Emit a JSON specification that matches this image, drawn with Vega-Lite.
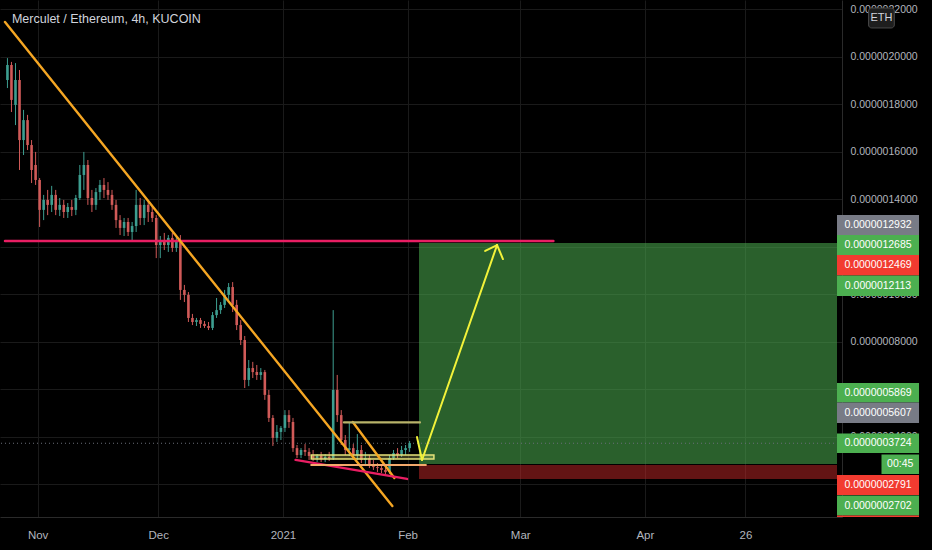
{
  "$schema": "https://vega.github.io/schema/vega-lite/v6.json",
  "width": 842,
  "height": 517,
  "autosize": "none",
  "padding": {"left": 0, "top": 0, "right": 90, "bottom": 33},
  "background": "#000000",
  "config": {"view": {"stroke": null}, "font": "Liberation Sans"},
  "resolve": {"scale": {"color": "independent", "size": "independent", "opacity": "independent"}},
  "datasets": {
    "candles": [
      {"t":"2020-10-24T12:00","o":19.02e-7,"h":19.94e-7,"l":18.68e-7,"c":19.65e-7},
      {"t":"2020-10-25T12:00","o":19.65e-7,"h":19.78e-7,"l":17.67e-7,"c":18.18e-7},
      {"t":"2020-10-26T12:00","o":17.97e-7,"h":19.73e-7,"l":17.12e-7,"c":19.02e-7},
      {"t":"2020-10-27T12:00","o":19.02e-7,"h":19.44e-7,"l":15.23e-7,"c":16.49e-7},
      {"t":"2020-10-28T12:00","o":16.49e-7,"h":17.76e-7,"l":15.86e-7,"c":17.33e-7},
      {"t":"2020-10-29T12:00","o":17.33e-7,"h":17.55e-7,"l":16.07e-7,"c":16.28e-7},
      {"t":"2020-10-30T12:00","o":16.28e-7,"h":16.49e-7,"l":14.68e-7,"c":15.23e-7},
      {"t":"2020-10-31T12:00","o":15.44e-7,"h":15.99e-7,"l":14.60e-7,"c":14.81e-7},
      {"t":"2020-11-01T12:00","o":14.81e-7,"h":14.89e-7,"l":12.83e-7,"c":13.55e-7},
      {"t":"2020-11-02T12:00","o":13.55e-7,"h":14.18e-7,"l":13.12e-7,"c":13.97e-7},
      {"t":"2020-11-03T12:00","o":13.97e-7,"h":14.39e-7,"l":13.33e-7,"c":13.76e-7},
      {"t":"2020-11-04T12:00","o":13.76e-7,"h":14.56e-7,"l":13.46e-7,"c":14.18e-7},
      {"t":"2020-11-05T12:00","o":14.18e-7,"h":14.39e-7,"l":13.33e-7,"c":13.55e-7},
      {"t":"2020-11-06T12:00","o":13.55e-7,"h":14.05e-7,"l":13.29e-7,"c":13.76e-7},
      {"t":"2020-11-07T12:00","o":13.76e-7,"h":13.97e-7,"l":13.21e-7,"c":13.46e-7},
      {"t":"2020-11-08T12:00","o":13.46e-7,"h":13.84e-7,"l":13.21e-7,"c":13.67e-7},
      {"t":"2020-11-09T12:00","o":13.67e-7,"h":13.97e-7,"l":13.29e-7,"c":13.55e-7},
      {"t":"2020-11-10T12:00","o":13.55e-7,"h":14.18e-7,"l":13.33e-7,"c":14.05e-7},
      {"t":"2020-11-11T12:00","o":14.05e-7,"h":15.44e-7,"l":13.97e-7,"c":15.02e-7},
      {"t":"2020-11-12T12:00","o":15.02e-7,"h":15.99e-7,"l":14.39e-7,"c":15.44e-7},
      {"t":"2020-11-13T12:00","o":15.44e-7,"h":15.65e-7,"l":13.76e-7,"c":14.05e-7},
      {"t":"2020-11-14T12:00","o":14.05e-7,"h":14.39e-7,"l":13.46e-7,"c":13.76e-7},
      {"t":"2020-11-15T12:00","o":13.76e-7,"h":14.47e-7,"l":13.55e-7,"c":14.30e-7},
      {"t":"2020-11-16T12:00","o":14.30e-7,"h":14.81e-7,"l":13.97e-7,"c":14.60e-7},
      {"t":"2020-11-17T12:00","o":14.60e-7,"h":14.89e-7,"l":14.05e-7,"c":14.39e-7},
      {"t":"2020-11-18T12:00","o":14.39e-7,"h":14.72e-7,"l":13.97e-7,"c":14.18e-7},
      {"t":"2020-11-19T12:00","o":14.18e-7,"h":14.39e-7,"l":13.55e-7,"c":13.76e-7},
      {"t":"2020-11-20T12:00","o":13.76e-7,"h":13.97e-7,"l":12.79e-7,"c":13.12e-7},
      {"t":"2020-11-21T12:00","o":13.12e-7,"h":13.33e-7,"l":12.49e-7,"c":12.79e-7},
      {"t":"2020-11-22T12:00","o":12.79e-7,"h":13.21e-7,"l":12.45e-7,"c":13.04e-7},
      {"t":"2020-11-23T12:00","o":13.04e-7,"h":13.21e-7,"l":12.45e-7,"c":12.62e-7},
      {"t":"2020-11-24T12:00","o":12.62e-7,"h":13.04e-7,"l":12.28e-7,"c":12.87e-7},
      {"t":"2020-11-25T12:00","o":12.87e-7,"h":14.39e-7,"l":12.62e-7,"c":13.76e-7},
      {"t":"2020-11-26T12:00","o":13.76e-7,"h":14.05e-7,"l":12.91e-7,"c":13.21e-7},
      {"t":"2020-11-27T12:00","o":13.21e-7,"h":13.97e-7,"l":12.91e-7,"c":13.76e-7},
      {"t":"2020-11-28T12:00","o":13.76e-7,"h":13.97e-7,"l":13.04e-7,"c":13.46e-7},
      {"t":"2020-11-29T12:00","o":13.46e-7,"h":13.76e-7,"l":13.04e-7,"c":13.21e-7},
      {"t":"2020-11-30T12:00","o":13.21e-7,"h":13.33e-7,"l":11.52e-7,"c":12.07e-7},
      {"t":"2020-12-01T12:00","o":12.07e-7,"h":12.45e-7,"l":11.52e-7,"c":12.28e-7},
      {"t":"2020-12-02T12:00","o":12.28e-7,"h":12.58e-7,"l":11.86e-7,"c":12.07e-7},
      {"t":"2020-12-03T12:00","o":12.07e-7,"h":12.49e-7,"l":11.78e-7,"c":12.37e-7},
      {"t":"2020-12-04T12:00","o":12.37e-7,"h":12.58e-7,"l":11.78e-7,"c":11.95e-7},
      {"t":"2020-12-05T12:00","o":11.95e-7,"h":12.49e-7,"l":11.78e-7,"c":12.28e-7},
      {"t":"2020-12-06T12:00","o":12.28e-7,"h":12.49e-7,"l":9.76e-7,"c":10.18e-7},
      {"t":"2020-12-07T12:00","o":10.18e-7,"h":10.39e-7,"l":9.67e-7,"c":9.97e-7},
      {"t":"2020-12-08T12:00","o":9.97e-7,"h":10.09e-7,"l":8.83e-7,"c":9.00e-7},
      {"t":"2020-12-09T12:00","o":9.00e-7,"h":9.17e-7,"l":8.70e-7,"c":8.83e-7},
      {"t":"2020-12-10T12:00","o":8.83e-7,"h":9.00e-7,"l":8.66e-7,"c":8.91e-7},
      {"t":"2020-12-11T12:00","o":8.91e-7,"h":9.00e-7,"l":8.58e-7,"c":8.75e-7},
      {"t":"2020-12-12T12:00","o":8.75e-7,"h":8.87e-7,"l":8.58e-7,"c":8.66e-7},
      {"t":"2020-12-13T12:00","o":8.66e-7,"h":8.83e-7,"l":8.49e-7,"c":8.58e-7},
      {"t":"2020-12-14T12:00","o":8.58e-7,"h":9.25e-7,"l":8.49e-7,"c":9.12e-7},
      {"t":"2020-12-15T12:00","o":9.12e-7,"h":9.84e-7,"l":9.00e-7,"c":9.33e-7},
      {"t":"2020-12-16T12:00","o":9.33e-7,"h":9.67e-7,"l":9.17e-7,"c":9.55e-7},
      {"t":"2020-12-17T12:00","o":9.55e-7,"h":10.18e-7,"l":9.42e-7,"c":9.97e-7},
      {"t":"2020-12-18T12:00","o":9.97e-7,"h":10.47e-7,"l":9.76e-7,"c":10.30e-7},
      {"t":"2020-12-19T12:00","o":10.30e-7,"h":10.51e-7,"l":9.25e-7,"c":9.55e-7},
      {"t":"2020-12-20T12:00","o":9.55e-7,"h":9.76e-7,"l":8.49e-7,"c":8.70e-7},
      {"t":"2020-12-21T12:00","o":8.70e-7,"h":8.91e-7,"l":7.86e-7,"c":8.07e-7},
      {"t":"2020-12-22T12:00","o":8.07e-7,"h":8.24e-7,"l":6.05e-7,"c":6.39e-7},
      {"t":"2020-12-23T12:00","o":6.39e-7,"h":7.23e-7,"l":6.13e-7,"c":6.89e-7},
      {"t":"2020-12-24T12:00","o":6.89e-7,"h":7.15e-7,"l":6.47e-7,"c":6.72e-7},
      {"t":"2020-12-25T12:00","o":6.72e-7,"h":7.02e-7,"l":6.39e-7,"c":6.60e-7},
      {"t":"2020-12-26T12:00","o":6.60e-7,"h":6.89e-7,"l":6.39e-7,"c":6.72e-7},
      {"t":"2020-12-27T12:00","o":6.72e-7,"h":6.81e-7,"l":5.55e-7,"c":5.76e-7},
      {"t":"2020-12-28T12:00","o":5.76e-7,"h":5.97e-7,"l":4.62e-7,"c":4.79e-7},
      {"t":"2020-12-29T12:00","o":4.79e-7,"h":4.91e-7,"l":3.61e-7,"c":3.95e-7},
      {"t":"2020-12-30T12:00","o":3.95e-7,"h":4.49e-7,"l":3.78e-7,"c":4.20e-7},
      {"t":"2020-12-31T12:00","o":4.20e-7,"h":4.45e-7,"l":3.86e-7,"c":4.37e-7},
      {"t":"2021-01-01T12:00","o":4.37e-7,"h":5.12e-7,"l":4.20e-7,"c":4.91e-7},
      {"t":"2021-01-02T12:00","o":4.91e-7,"h":5.12e-7,"l":4.37e-7,"c":4.62e-7},
      {"t":"2021-01-03T12:00","o":4.62e-7,"h":4.79e-7,"l":3.36e-7,"c":3.52e-7},
      {"t":"2021-01-04T12:00","o":3.52e-7,"h":3.65e-7,"l":3.10e-7,"c":3.23e-7},
      {"t":"2021-01-05T12:00","o":3.23e-7,"h":3.52e-7,"l":3.10e-7,"c":3.44e-7},
      {"t":"2021-01-06T12:00","o":3.44e-7,"h":3.69e-7,"l":3.19e-7,"c":3.36e-7},
      {"t":"2021-01-07T12:00","o":3.36e-7,"h":3.52e-7,"l":3.02e-7,"c":3.19e-7},
      {"t":"2021-01-08T12:00","o":3.19e-7,"h":3.44e-7,"l":2.98e-7,"c":3.10e-7},
      {"t":"2021-01-09T12:00","o":3.10e-7,"h":3.27e-7,"l":2.93e-7,"c":3.19e-7},
      {"t":"2021-01-10T12:00","o":3.19e-7,"h":3.36e-7,"l":2.93e-7,"c":3.06e-7},
      {"t":"2021-01-11T12:00","o":3.06e-7,"h":3.27e-7,"l":2.93e-7,"c":3.15e-7},
      {"t":"2021-01-12T12:00","o":3.15e-7,"h":3.36e-7,"l":2.98e-7,"c":3.10e-7},
      {"t":"2021-01-13T12:00","o":3.10e-7,"h":9.33e-7,"l":3.02e-7,"c":5.97e-7},
      {"t":"2021-01-14T12:00","o":5.97e-7,"h":6.60e-7,"l":4.62e-7,"c":4.91e-7},
      {"t":"2021-01-15T12:00","o":4.91e-7,"h":5.12e-7,"l":3.65e-7,"c":3.86e-7},
      {"t":"2021-01-16T12:00","o":3.86e-7,"h":4.07e-7,"l":3.23e-7,"c":3.44e-7},
      {"t":"2021-01-17T12:00","o":3.44e-7,"h":4.58e-7,"l":3.19e-7,"c":3.52e-7},
      {"t":"2021-01-18T12:00","o":3.52e-7,"h":3.69e-7,"l":3.02e-7,"c":3.23e-7},
      {"t":"2021-01-19T12:00","o":3.23e-7,"h":4.11e-7,"l":3.02e-7,"c":3.44e-7},
      {"t":"2021-01-20T12:00","o":3.44e-7,"h":3.65e-7,"l":2.89e-7,"c":3.02e-7},
      {"t":"2021-01-21T12:00","o":3.02e-7,"h":3.36e-7,"l":2.81e-7,"c":3.10e-7},
      {"t":"2021-01-22T12:00","o":3.10e-7,"h":3.23e-7,"l":2.68e-7,"c":2.81e-7},
      {"t":"2021-01-23T12:00","o":2.81e-7,"h":3.02e-7,"l":2.60e-7,"c":2.72e-7},
      {"t":"2021-01-24T12:00","o":2.72e-7,"h":2.89e-7,"l":2.51e-7,"c":2.68e-7},
      {"t":"2021-01-25T12:00","o":2.68e-7,"h":2.85e-7,"l":2.47e-7,"c":2.60e-7},
      {"t":"2021-01-26T12:00","o":2.60e-7,"h":2.81e-7,"l":2.35e-7,"c":2.51e-7},
      {"t":"2021-01-27T12:00","o":2.51e-7,"h":3.23e-7,"l":2.43e-7,"c":3.10e-7},
      {"t":"2021-01-28T12:00","o":3.10e-7,"h":3.44e-7,"l":3.02e-7,"c":3.31e-7},
      {"t":"2021-01-29T12:00","o":3.31e-7,"h":3.52e-7,"l":3.10e-7,"c":3.23e-7},
      {"t":"2021-01-30T12:00","o":3.23e-7,"h":3.61e-7,"l":3.15e-7,"c":3.44e-7},
      {"t":"2021-01-31T12:00","o":3.44e-7,"h":3.65e-7,"l":3.23e-7,"c":3.52e-7},
      {"t":"2021-02-01T12:00","o":3.52e-7,"h":3.82e-7,"l":3.36e-7,"c":3.73e-7}
    ],
    "zones": [
      {"kind":"profit","a":"2021-02-03T20:00","b":"2021-05-18T18:30","top":12.16e-7,"bot":2.85e-7},
      {"kind":"loss","a":"2021-02-03T20:00","b":"2021-05-18T18:30","top":2.81e-7,"bot":2.22e-7}
    ],
    "segments": [
      {"kind":"resist","a":"2020-10-23T21:24","ya":12.24e-7,"b":"2021-03-09T06:00","yb":12.24e-7},
      {"kind":"trend","a":"2020-10-23T21:24","ya":21.46e-7,"b":"2021-01-28T05:00","yb":1.08e-7},
      {"kind":"trend","a":"2021-01-18T09:00","ya":4.62e-7,"b":"2021-01-28T17:00","yb":2.26e-7},
      {"kind":"pink","a":"2021-01-04T03:00","ya":3.02e-7,"b":"2021-01-31T21:00","yb":2.22e-7},
      {"kind":"mark","a":"2021-01-16T04:00","ya":4.60e-7,"b":"2021-02-04T02:00","yb":4.60e-7},
      {"kind":"support","a":"2021-01-08T01:00","ya":2.81e-7,"b":"2021-02-05T13:00","yb":2.81e-7},
      {"kind":"arrow","a":"2021-02-03T08:00","ya":3.99e-7,"b":"2021-02-04T14:00","yb":3.02e-7},
      {"kind":"arrow","a":"2021-02-04T14:00","ya":3.02e-7,"b":"2021-02-23T06:00","yb":12.07e-7},
      {"kind":"arrow","a":"2021-02-23T06:00","ya":12.07e-7,"b":"2021-02-20T07:00","yb":11.82e-7},
      {"kind":"arrow","a":"2021-02-23T06:00","ya":12.07e-7,"b":"2021-02-24T17:00","yb":11.48e-7}
    ],
    "tags": [
      {"t":"0.0000012932","kind":"grey","a":"2021-05-18T18:30","b":"2021-06-08T04:00","m":"2021-05-28T23:15","top":13.335e-7,"bot":12.493e-7,"mid":12.914e-7},
      {"t":"0.0000012685","kind":"green","a":"2021-05-18T18:30","b":"2021-06-08T04:00","m":"2021-05-28T23:15","top":12.493e-7,"bot":11.651e-7,"mid":12.072e-7},
      {"t":"0.0000012469","kind":"red","a":"2021-05-18T18:30","b":"2021-06-08T04:00","m":"2021-05-28T23:15","top":11.651e-7,"bot":10.787e-7,"mid":11.219e-7},
      {"t":"0.0000012113","kind":"green","a":"2021-05-18T18:30","b":"2021-06-08T04:00","m":"2021-05-28T23:15","top":10.787e-7,"bot":9.924e-7,"mid":10.356e-7},
      {"t":"0.0000005869","kind":"green","a":"2021-05-18T18:30","b":"2021-06-08T04:00","m":"2021-05-28T23:15","top":6.261e-7,"bot":5.440e-7,"mid":5.851e-7},
      {"t":"0.0000005607","kind":"grey","a":"2021-05-18T18:30","b":"2021-06-08T04:00","m":"2021-05-28T23:15","top":5.440e-7,"bot":4.577e-7,"mid":5.009e-7},
      {"t":"0.0000003724","kind":"green","a":"2021-05-18T18:30","b":"2021-06-08T04:00","m":"2021-05-28T23:15","top":4.135e-7,"bot":3.314e-7,"mid":3.725e-7},
      {"t":"00:45","kind":"green","a":"2021-05-29T20:00","b":"2021-06-08T04:00","m":"2021-06-03T12:00","top":3.251e-7,"bot":2.429e-7,"mid":2.840e-7},
      {"t":"0.0000002791","kind":"red","a":"2021-05-18T18:30","b":"2021-06-08T04:00","m":"2021-05-28T23:15","top":2.387e-7,"bot":1.545e-7,"mid":1.966e-7},
      {"t":"0.0000002702","kind":"green","a":"2021-05-18T18:30","b":"2021-06-08T04:00","m":"2021-05-28T23:15","top":1.524e-7,"bot":0.682e-7,"mid":1.103e-7},
      {"t":"","kind":"red","a":"2021-05-18T18:30","b":"2021-06-08T04:00","m":"2021-05-28T23:15","top":0.682e-7,"bot":0.619e-7,"mid":0.65e-7}
    ],
    "notes": [
      {"t":"Merculet / Ethereum, 4h, KUCOIN","x":"2020-10-25T14:38","y":21.42e-7}
    ],
    "badge": [
      {"t":"ETH","a":"2021-05-26T15:00","b":"2021-06-02T00:30","m":"2021-05-29T20:00","top":22.05e-7,"bot":21.21e-7,"mid":21.63e-7}
    ],
    "price": [
      {"p":3.724e-7}
    ]
  },
  "layer": [
    {
      "data": {"name": "zones"},
      "mark": {"type": "rect"},
      "encoding": {
        "x": {"field": "a", "type": "temporal", "title": null,
          "scale": {"type": "time", "nice": false, "domain": [{"year":2020,"month":10,"date":23,"hours":21,"minutes":24},{"year":2021,"month":5,"date":18,"hours":18,"minutes":30}]},
          "axis": {"orient": "bottom", "title": null, "grid": true, "gridColor": "#1a1a1a", "ticks": false, "tickSize": 0, "domainColor": "#2a2a2a",
            "labelColor": "#b2b5be", "labelFontSize": 11.5, "labelFont": "Liberation Sans", "labelPadding": 12, "labelFlush": false, "labelOverlap": false,
            "values": [{"year":2020,"month":11,"date":1},{"year":2020,"month":12,"date":1},{"year":2021,"month":1,"date":1},{"year":2021,"month":2,"date":1},{"year":2021,"month":3,"date":1},{"year":2021,"month":4,"date":1},{"year":2021,"month":4,"date":26}],
            "labelExpr": "timeFormat(datum.value,'%m%d')=='0101' ? timeFormat(datum.value,'%Y') : (timeFormat(datum.value,'%d')=='01' ? timeFormat(datum.value,'%b') : timeFormat(datum.value,'%d'))"}},
        "x2": {"field": "b"},
        "y": {"field": "top", "type": "quantitative", "title": null,
          "scale": {"domain": [6.19e-8, 2.2387e-6], "nice": false, "zero": false},
          "axis": {"orient": "right", "title": null, "grid": true, "gridColor": "#1a1a1a", "ticks": false, "tickSize": 0, "domainColor": "#2a2a2a",
            "labelColor": "#b2b5be", "labelFontSize": 10.5, "labelFont": "Liberation Sans", "labelPadding": 8, "labelAlign": "left", "labelFlush": false, "labelOverlap": false,
            "values": [2e-7, 4e-7, 6e-7, 8e-7, 1e-6, 1.2e-6, 1.4e-6, 1.6e-6, 1.8e-6, 2e-6, 2.2e-6],
            "labelExpr": "(abs(datum.value-1.2e-6)<1e-9 || abs(datum.value-6e-7)<1e-9 || abs(datum.value-2e-7)<1e-9) ? '' : format(datum.value,'.10f')"}},
        "y2": {"field": "bot"},
        "color": {"field": "kind", "type": "nominal", "scale": {"domain": ["profit", "loss"], "range": ["#4caf50", "#c62828"]}, "legend": null},
        "opacity": {"field": "kind", "type": "nominal", "scale": {"domain": ["profit", "loss"], "range": [0.55, 0.5]}, "legend": null}
      }
    },
    {
      "data": {"name": "price"},
      "mark": {"type": "rule", "color": "#6a6d78", "strokeWidth": 1, "strokeDash": [1, 3]},
      "encoding": {
        "y": {"field": "p", "type": "quantitative", "title": null, "scale": {"domain": [6.19e-8, 2.2387e-6], "nice": false, "zero": false}}
      }
    },
    {
      "data": {"name": "candles"},
      "mark": {"type": "rule", "strokeWidth": 1},
      "encoding": {
        "x": {"field": "t", "type": "temporal", "title": null, "scale": {"type": "time", "nice": false, "domain": [{"year":2020,"month":10,"date":23,"hours":21,"minutes":24},{"year":2021,"month":5,"date":18,"hours":18,"minutes":30}]}},
        "y": {"field": "l", "type": "quantitative", "title": null, "scale": {"domain": [6.19e-8, 2.2387e-6], "nice": false, "zero": false}},
        "y2": {"field": "h"},
        "color": {"condition": {"test": "datum.c >= datum.o", "value": "#3d9e90"}, "value": "#d05a58"}
      }
    },
    {
      "data": {"name": "candles"},
      "mark": {"type": "bar", "size": 2.6},
      "encoding": {
        "x": {"field": "t", "type": "temporal", "title": null, "scale": {"type": "time", "nice": false, "domain": [{"year":2020,"month":10,"date":23,"hours":21,"minutes":24},{"year":2021,"month":5,"date":18,"hours":18,"minutes":30}]}},
        "y": {"field": "o", "type": "quantitative", "title": null, "scale": {"domain": [6.19e-8, 2.2387e-6], "nice": false, "zero": false}},
        "y2": {"field": "c"},
        "color": {"condition": {"test": "datum.c >= datum.o", "value": "#3d9e90"}, "value": "#d05a58"}
      }
    },
    {
      "data": {"values": [{"a":"2021-01-08T01:00","b":"2021-02-07T13:00","top":3.23e-7,"bot":3.06e-7}]},
      "mark": {"type": "rect", "fill": "#e6e27a", "fillOpacity": 0.25, "stroke": "#e6e27a", "strokeWidth": 1.5},
      "encoding": {
        "x": {"field": "a", "type": "temporal", "title": null, "scale": {"type": "time", "nice": false, "domain": [{"year":2020,"month":10,"date":23,"hours":21,"minutes":24},{"year":2021,"month":5,"date":18,"hours":18,"minutes":30}]}},
        "x2": {"field": "b"},
        "y": {"field": "top", "type": "quantitative", "title": null, "scale": {"domain": [6.19e-8, 2.2387e-6], "nice": false, "zero": false}},
        "y2": {"field": "bot"}
      }
    },
    {
      "data": {"name": "segments"},
      "mark": {"type": "rule", "strokeCap": "round"},
      "encoding": {
        "x": {"field": "a", "type": "temporal", "title": null, "scale": {"type": "time", "nice": false, "domain": [{"year":2020,"month":10,"date":23,"hours":21,"minutes":24},{"year":2021,"month":5,"date":18,"hours":18,"minutes":30}]}},
        "x2": {"field": "b"},
        "y": {"field": "ya", "type": "quantitative", "title": null, "scale": {"domain": [6.19e-8, 2.2387e-6], "nice": false, "zero": false}},
        "y2": {"field": "yb"},
        "color": {"field": "kind", "type": "nominal", "scale": {"domain": ["resist", "trend", "pink", "mark", "support", "arrow"], "range": ["#e91e63", "#f5a623", "#e91e63", "#b8b36a", "#f3a96b", "#f2f23a"]}, "legend": null},
        "size": {"field": "kind", "type": "nominal", "scale": {"domain": ["resist", "trend", "pink", "mark", "support", "arrow"], "range": [2.5, 2, 2.5, 1.5, 3.5, 2]}, "legend": null}
      }
    },
    {
      "data": {"name": "tags"},
      "mark": {"type": "rect"},
      "encoding": {
        "x": {"field": "a", "type": "temporal", "title": null, "scale": {"type": "time", "nice": false, "domain": [{"year":2020,"month":10,"date":23,"hours":21,"minutes":24},{"year":2021,"month":5,"date":18,"hours":18,"minutes":30}]}},
        "x2": {"field": "b"},
        "y": {"field": "top", "type": "quantitative", "title": null, "scale": {"domain": [6.19e-8, 2.2387e-6], "nice": false, "zero": false}},
        "y2": {"field": "bot"},
        "color": {"field": "kind", "type": "nominal", "scale": {"domain": ["grey", "green", "red"], "range": ["#787b86", "#4caf50", "#f23b30"]}, "legend": null}
      }
    },
    {
      "data": {"name": "tags"},
      "mark": {"type": "text", "align": "center", "baseline": "middle", "fontSize": 10.5, "font": "Liberation Sans", "color": "#ffffff"},
      "encoding": {
        "x": {"field": "m", "type": "temporal", "title": null, "scale": {"type": "time", "nice": false, "domain": [{"year":2020,"month":10,"date":23,"hours":21,"minutes":24},{"year":2021,"month":5,"date":18,"hours":18,"minutes":30}]}},
        "y": {"field": "mid", "type": "quantitative", "title": null, "scale": {"domain": [6.19e-8, 2.2387e-6], "nice": false, "zero": false}},
        "text": {"field": "t"}
      }
    },
    {
      "data": {"name": "badge"},
      "mark": {"type": "rect", "fill": "#1e1e1e", "stroke": "#4a4a4a", "strokeWidth": 1, "cornerRadius": 3},
      "encoding": {
        "x": {"field": "a", "type": "temporal", "title": null, "scale": {"type": "time", "nice": false, "domain": [{"year":2020,"month":10,"date":23,"hours":21,"minutes":24},{"year":2021,"month":5,"date":18,"hours":18,"minutes":30}]}},
        "x2": {"field": "b"},
        "y": {"field": "top", "type": "quantitative", "title": null, "scale": {"domain": [6.19e-8, 2.2387e-6], "nice": false, "zero": false}},
        "y2": {"field": "bot"}
      }
    },
    {
      "data": {"name": "badge"},
      "mark": {"type": "text", "align": "center", "baseline": "middle", "fontSize": 11, "font": "Liberation Sans", "color": "#d1d4dc"},
      "encoding": {
        "x": {"field": "m", "type": "temporal", "title": null, "scale": {"type": "time", "nice": false, "domain": [{"year":2020,"month":10,"date":23,"hours":21,"minutes":24},{"year":2021,"month":5,"date":18,"hours":18,"minutes":30}]}},
        "y": {"field": "mid", "type": "quantitative", "title": null, "scale": {"domain": [6.19e-8, 2.2387e-6], "nice": false, "zero": false}},
        "text": {"field": "t"}
      }
    },
    {
      "data": {"name": "notes"},
      "mark": {"type": "text", "align": "left", "baseline": "alphabetic", "fontSize": 12.5, "font": "Liberation Sans", "color": "#d1d4dc"},
      "encoding": {
        "x": {"field": "x", "type": "temporal", "title": null, "scale": {"type": "time", "nice": false, "domain": [{"year":2020,"month":10,"date":23,"hours":21,"minutes":24},{"year":2021,"month":5,"date":18,"hours":18,"minutes":30}]}},
        "y": {"field": "y", "type": "quantitative", "title": null, "scale": {"domain": [6.19e-8, 2.2387e-6], "nice": false, "zero": false}},
        "text": {"field": "t"}
      }
    }
  ]
}
